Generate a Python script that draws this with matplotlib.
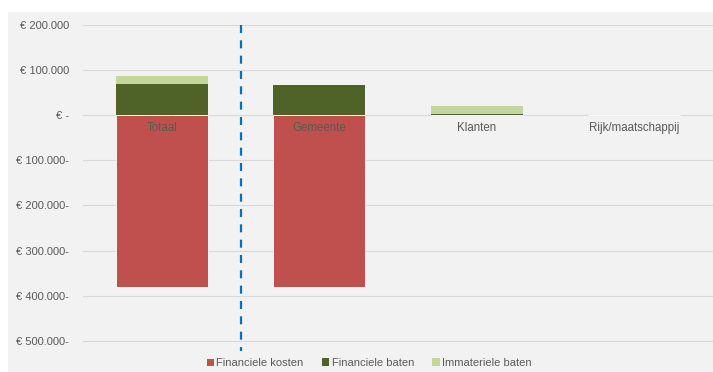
import matplotlib.pyplot as plt
import numpy as np
from matplotlib.patches import Rectangle

plt.rcParams['font.family'] = ['Liberation Sans', 'DejaVu Sans']

categories = ['Totaal', 'Gemeente', 'Klanten', 'Rijk/maatschappij']
fin_kosten = [-380000, -380000, 0, 0]
fin_baten = [70000, 67000, 3000, 0]
immat_baten = [18000, 0, 17000, 1000]
y_ticks = np.arange(-500000, 200001, 100000)

c_kosten = '#c0504d'
c_baten = '#4f6228'
c_immat = '#c3d69b'
grey_txt = '#595959'

W, H = 713, 372
fig = plt.figure(figsize=(W / 100, H / 100), dpi=100)
fig.patch.set_facecolor('white')
fig.patches.append(Rectangle((8 / W, 0), 1 - 8 / W, 1 - 12 / H,
                             transform=fig.transFigure, facecolor='#f2f2f2',
                             edgecolor='none', zorder=-5))

ax = fig.add_axes([83 / W, 1 - 352 / H, 1 - 83 / W, 327 / H])
ax.set_facecolor('none')

x = np.arange(len(categories))
bw = 0.585
ax.bar(x, fin_kosten, bw, color=c_kosten, edgecolor='white', linewidth=0.6, zorder=3, label='Financiele kosten')
ax.bar(x, fin_baten, bw, color=c_baten, edgecolor='none', zorder=3, label='Financiele baten')
ax.bar(x, immat_baten, bw, bottom=fin_baten, color=c_immat, edgecolor='none', zorder=3, label='Immateriele baten')

ax.set_xlim(-0.5, len(categories) - 0.5)
ax.set_ylim(-525000, 200000)
ax.set_yticks(y_ticks)


def euro(v):
    if v == 0:
        return '€ -'
    s = f'{abs(int(v)):,}'.replace(',', '.')
    return f'€ {s}' + ('-' if v < 0 else '')


ax.set_yticklabels([euro(v) for v in y_ticks], fontsize=8, color=grey_txt)
ax.tick_params(axis='y', length=0, pad=10)
ax.set_xticks([])
ax.grid(axis='y', color='#d9d9d9', linewidth=0.8, zorder=1)
ax.set_axisbelow(True)
for s in ax.spines.values():
    s.set_visible(False)

for xi, name in zip(x, categories):
    ax.text(xi, -29000, name, ha='center', va='center', fontsize=8.3, color=grey_txt, zorder=4)

ax.plot([0.5, 0.5], [200000, -522000], color='#0070c0', linestyle=(0, (3.6, 3.3)),
        linewidth=1.6, zorder=5, clip_on=False)

fig.legend(loc='center', bbox_to_anchor=(369 / W, 1 - 363 / H), ncol=3, frameon=False,
           fontsize=8, labelcolor=grey_txt, handlelength=0.7, handleheight=0.7,
           handletextpad=0.2, columnspacing=1.65)

fig.savefig('out.png', dpi=100)
